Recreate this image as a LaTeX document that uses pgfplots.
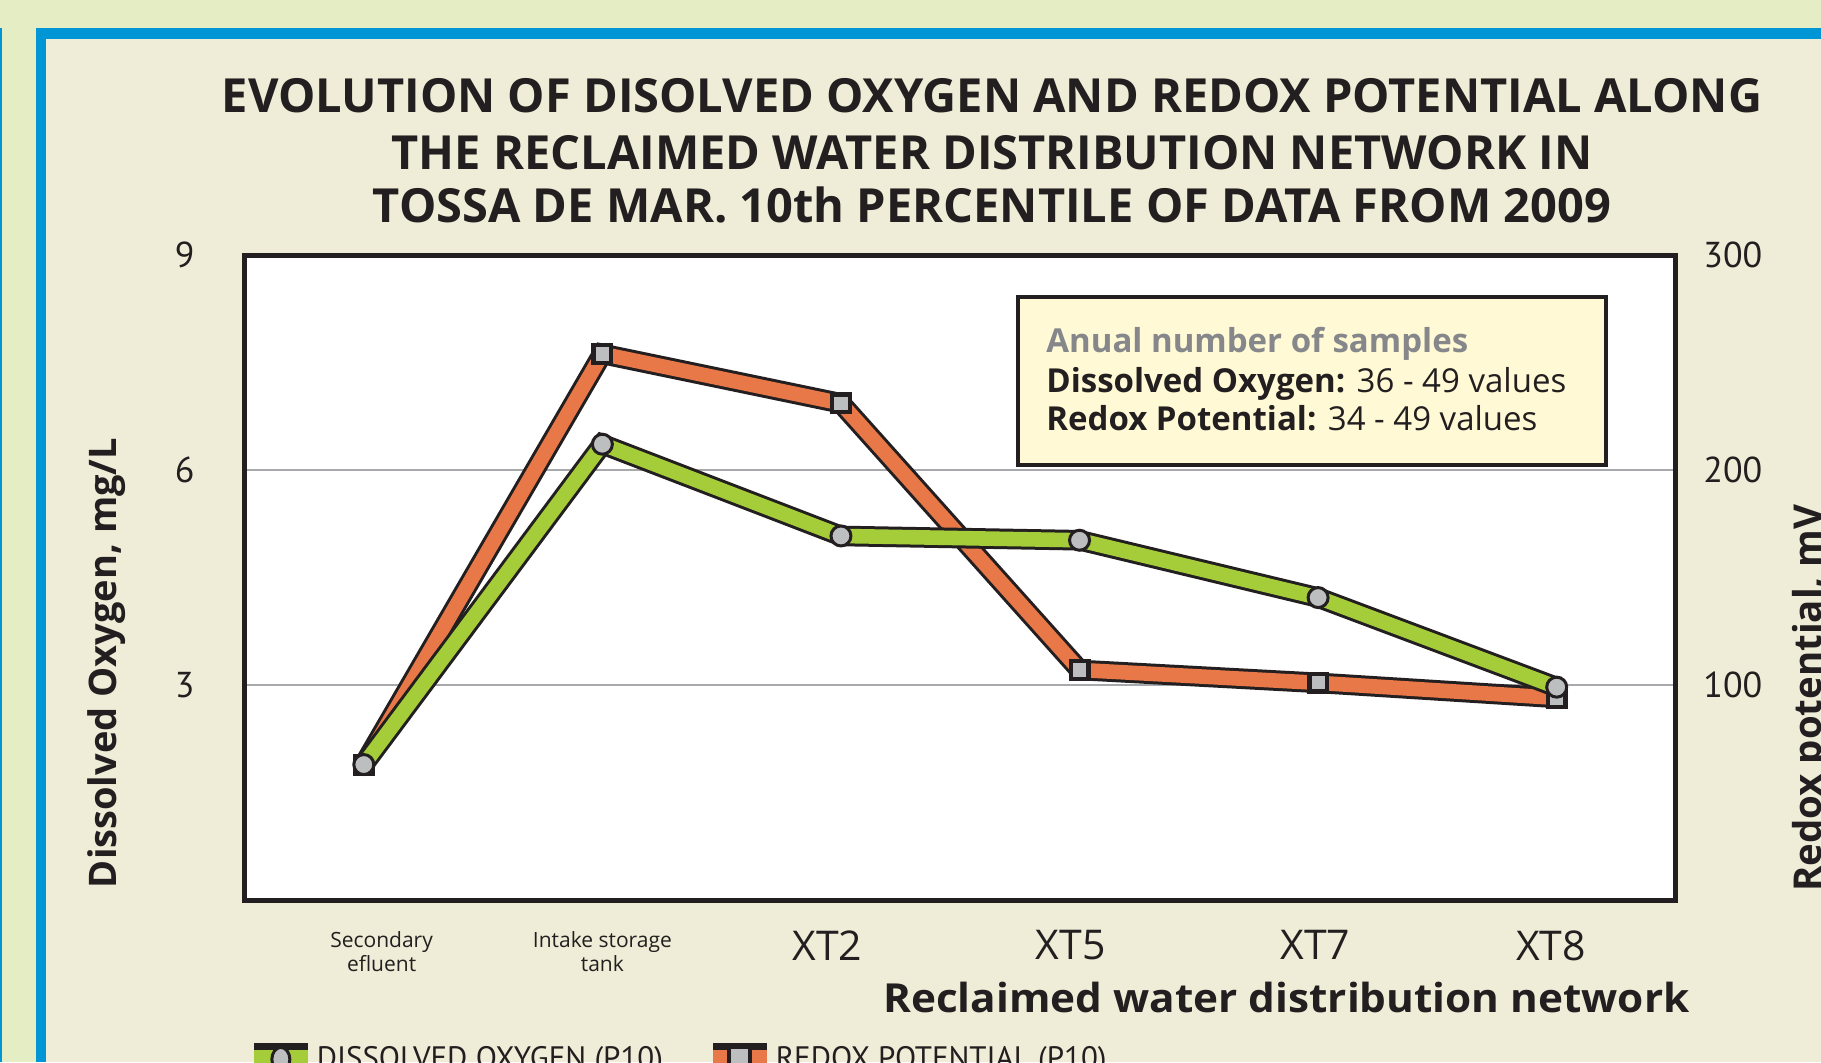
\documentclass[border=0pt]{standalone}
\usepackage{pgfplots}
\pgfplotsset{compat=1.18}
\usepackage{fontspec}
\setmainfont{Open Sans}
\newfontfamily\ptsans{PT Sans}
\definecolor{outergreen}{RGB}{228,237,196}
\definecolor{panel}{RGB}{239,237,215}
\definecolor{frameblue}{RGB}{0,150,214}
\definecolor{dogreen}{RGB}{165,205,57}
\definecolor{rxorange}{RGB}{232,120,71}
\definecolor{markgray}{RGB}{188,190,192}
\definecolor{gridgray}{RGB}{167,169,172}
\definecolor{boxyellow}{RGB}{255,249,214}
\definecolor{anualgray}{RGB}{133,135,138}
\definecolor{inkblack}{RGB}{35,31,32}

\newcommand\shiftlab[2]{\makebox[0pt]{\hspace*{#1}#2}}
\newcommand\smalllab[1]{{\fontsize{10.5}{12}\selectfont\begin{tabular}{@{}c@{}}#1\end{tabular}}}

\pgfplotstableread{
x do
0 1.89
1 6.36
2 5.08
3 5.02
4 4.22
5 2.97
}\dotable
\pgfplotstableread{
x rx
0 63
1 254
2 231
3 107
4 101
5 94
}\rxtable

\begin{document}
\begin{tikzpicture}[x=0.5pt,y=0.5pt]
\useasboundingbox (0,0) rectangle (1821,1062);
\clip (0,0) rectangle (1821,1062);
% background
\fill[outergreen] (0,0) rectangle (1821,1062);
\fill[frameblue] (0,0) rectangle (2,1034);
\fill[frameblue] (36,0) rectangle (1821,1034);
\fill[panel] (46,0) rectangle (1821,1023);

% title
\begin{scope}[every node/.style={anchor=base, inner sep=0pt, text=inkblack, font=\bfseries\fontsize{23.5}{27}\selectfont}]
\node at (992,949) {EVOLUTION OF DISOLVED OXYGEN AND REDOX POTENTIAL ALONG};
\node at (992,892) {THE RECLAIMED WATER DISTRIBUTION NETWORK IN};
\node at (992,839) {TOSSA DE MAR. 10th PERCENTILE OF DATA FROM 2009};
\end{scope}

% redox axis (right) with frame
\begin{axis}[
  at={(122.25pt,81pt)}, anchor=south west,
  width=715.75pt, height=322.5pt, scale only axis,
  xmin=-0.5, xmax=5.5, ymin=0, ymax=300,
  axis background/.style={fill=white},
  axis line style={line width=2.5pt, inkblack},
  xtick={0,1,2,3,4,5},
  xticklabels={{\shiftlab{17.8pt}{\smalllab{Secondary\\efluent}}},
               {\shiftlab{0pt}{\smalllab{Intake storage\\tank}}},
               {\shiftlab{-13.6pt}{XT2}},
               {\shiftlab{-8.8pt}{XT5}},
               {\shiftlab{-2.8pt}{XT7}},
               {\shiftlab{-5.8pt}{XT8}}},
  xticklabel style={anchor=north, inner sep=0pt, yshift=-15pt, text=inkblack, font=\fontsize{20.5}{24}\selectfont},
  ytick={100,200,300},
  yticklabel pos=right,
  yticklabel style={anchor=west, inner sep=0pt, xshift=13.5pt, text=inkblack, font=\ptsans\fontsize{18}{20}\selectfont},
  /pgf/number format/assume math mode=true,
  ymajorgrids, grid style={gridgray, line width=1.2pt},
  major tick length=0pt,
  clip marker paths=true,
]
\addplot[inkblack, line width=10.3pt, line join=miter, forget plot] table[x=x,y=rx] {\rxtable};
\addplot[rxorange, line width=7.3pt, line join=miter, mark=square*, mark size=4.4pt,
  mark options={fill=markgray, draw=inkblack, line width=2.2pt, solid}, forget plot] table[x=x,y=rx] {\rxtable};
\end{axis}

% DO axis (left)
\begin{axis}[
  at={(122.25pt,81pt)}, anchor=south west,
  width=715.75pt, height=322.5pt, scale only axis,
  xmin=-0.5, xmax=5.5, ymin=0, ymax=9,
  hide x axis,
  axis y line*=left,
  y axis line style={draw=none},
  ytick={3,6,9},
  yticklabel style={anchor=east, inner sep=0pt, xshift=-24.75pt, text=inkblack, font=\ptsans\fontsize{18}{20}\selectfont},
  /pgf/number format/assume math mode=true,
  major tick length=0pt,
  clip marker paths=true,
  legend columns=2,
  legend style={draw=none, fill=none, inner sep=0pt, outer sep=0pt,
    at={(axis description cs:0.0066,-0.2217)}, anchor=north west,
    font=\ptsans\fontsize{15.5}{18}\selectfont, text=inkblack,
    nodes={inner sep=0pt},
    /tikz/every even column/.append style={column sep=25pt},
    /tikz/every odd column/.append style={column sep=4.5pt}},
]
\addplot[inkblack, line width=10.3pt, line join=miter, forget plot] table[x=x,y=do] {\dotable};
\addplot[dogreen, line width=7.3pt, line join=miter, mark=*, mark size=5pt,
  mark options={fill=markgray, draw=inkblack, line width=1.5pt, solid}, forget plot] table[x=x,y=do] {\dotable};
\addlegendimage{legend image code/.code={
  \fill[dogreen] (0pt,-10pt) rectangle (26.5pt,8pt);
  \fill[inkblack] (0pt,5pt) rectangle (26.5pt,8pt);
  \draw[inkblack, fill=markgray, line width=1.5pt] (13.25pt,0pt) ellipse (4.5pt and 6pt);}}
\addlegendentry{DISSOLVED OXYGEN (P10)}
\addlegendimage{legend image code/.code={
  \fill[rxorange] (0pt,-10pt) rectangle (26.5pt,8pt);
  \fill[inkblack] (0pt,5pt) rectangle (26.5pt,8pt);
  \draw[inkblack, fill=markgray, line width=2pt] (8pt,-10pt) rectangle (18.5pt,6pt);}}
\addlegendentry{REDOX POTENTIAL (P10)}
\end{axis}

% annotation box
\draw[inkblack, line width=2.3pt, fill=boxyellow] (1018,597) rectangle (1606,765);
\begin{scope}[every node/.style={anchor=base west, inner sep=0pt, text=inkblack, font=\fontsize{16.5}{19}\selectfont}]
\node at (1046,709) {\textbf{\color{anualgray}Anual number of samples}};
\node at (1046,669) {\textbf{Dissolved Oxygen:} 36 - 49 values};
\node at (1046,631) {\textbf{Redox Potential:} 34 - 49 values};
\end{scope}

% axis titles
\node[rotate=90, anchor=north, inner sep=0pt, text=inkblack, font=\bfseries\fontsize{19}{22}\selectfont] at (87,399) {Dissolved Oxygen, mg/L};
\node[rotate=90, anchor=north, inner sep=0pt, text=inkblack, font=\bfseries\fontsize{19.2}{22}\selectfont] at (1792,364) {Redox potential, mV};
\node[anchor=base east, inner sep=0pt, text=inkblack, font=\bfseries\fontsize{20}{22}\selectfont] at (1690,50) {\scalebox{1.057}[1]{Reclaimed water distribution network}};
\end{tikzpicture}
\end{document}
